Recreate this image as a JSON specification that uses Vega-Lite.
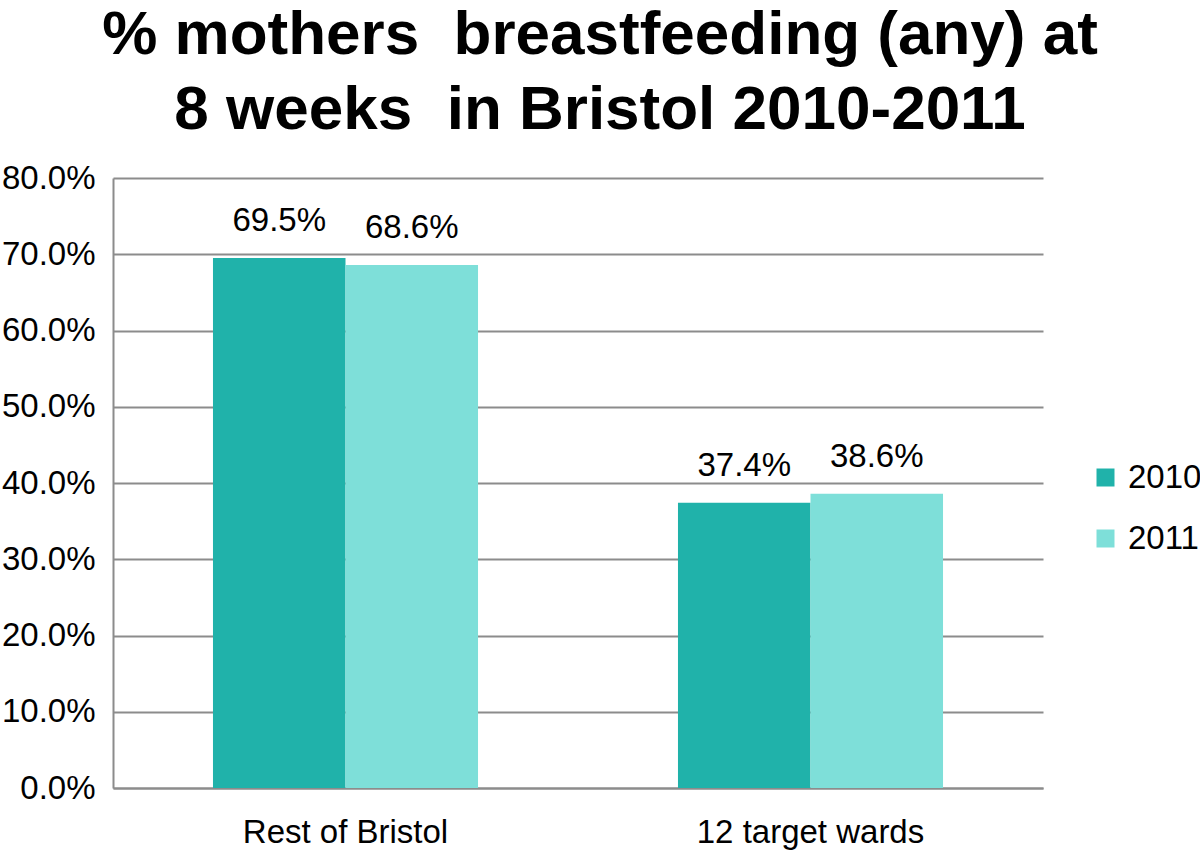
{
  "$schema": "https://vega.github.io/schema/vega-lite/v6.json",
  "autosize": "none",
  "width": 930,
  "height": 610,
  "padding": {"left": 113, "top": 178, "right": 157, "bottom": 62},
  "background": "white",
  "title": {
    "text": ["% mothers \u00a0breastfeeding (any) at", "8 weeks \u00a0in Bristol 2010-2011"],
    "font": "Liberation Sans",
    "fontSize": 62,
    "fontWeight": "bold",
    "lineHeight": 75,
    "color": "black",
    "anchor": "middle",
    "dx": 22,
    "offset": 20
  },
  "config": {
    "view": {"stroke": null},
    "font": "Liberation Sans"
  },
  "data": {
    "values": [
      {"group": "Rest of Bristol", "year": "2010", "value": 0.695},
      {"group": "Rest of Bristol", "year": "2011", "value": 0.686},
      {"group": "12 target wards", "year": "2010", "value": 0.374},
      {"group": "12 target wards", "year": "2011", "value": 0.386}
    ]
  },
  "encoding": {
    "x": {
      "field": "group",
      "type": "nominal",
      "sort": ["Rest of Bristol", "12 target wards"],
      "scale": {"paddingInner": 0.43, "paddingOuter": 0.215},
      "axis": {
        "title": null,
        "labelAngle": 0,
        "labelFont": "Liberation Sans",
        "labelFontSize": 33,
        "labelColor": "black",
        "labelBaseline": "alphabetic",
        "labelPadding": 54,
        "labelLimit": 0,
        "ticks": false,
        "tickSize": 0,
        "domainColor": "#8c8c8c",
        "domainWidth": 2,
        "grid": false
      }
    },
    "xOffset": {"field": "year", "type": "nominal"},
    "y": {
      "field": "value",
      "type": "quantitative",
      "scale": {"domain": [0, 0.8], "nice": false},
      "axis": {
        "title": null,
        "values": [0, 0.1, 0.2, 0.3, 0.4, 0.5, 0.6, 0.7, 0.8],
        "format": ".1%",
        "labelFont": "Liberation Sans",
        "labelFontSize": 33,
        "labelColor": "black",
        "labelPadding": 18,
        "ticks": false,
        "tickSize": 0,
        "domainColor": "#8c8c8c",
        "domainWidth": 2,
        "grid": true,
        "gridColor": "#8c8c8c",
        "gridWidth": 2
      }
    }
  },
  "layer": [
    {
      "mark": {"type": "bar"},
      "encoding": {
        "color": {
          "field": "year",
          "type": "nominal",
          "scale": {"domain": ["2010", "2011"], "range": ["#20B2AA", "#7EDFD9"]},
          "legend": {
            "title": null,
            "orient": "none",
            "legendX": 976,
            "legendY": 283,
            "symbolType": "square",
            "symbolSize": 324,
            "symbolStrokeWidth": 0,
            "symbolOpacity": 1,
            "labelFont": "Liberation Sans",
            "labelFontSize": 33,
            "labelColor": "black",
            "labelOffset": 6,
            "labelLimit": 0,
            "rowPadding": 27,
            "padding": 0
          }
        }
      }
    },
    {
      "mark": {"type": "text", "baseline": "alphabetic", "dy": -27, "fontSize": 33, "font": "Liberation Sans", "color": "black"},
      "encoding": {
        "text": {"field": "value", "type": "quantitative", "format": ".1%"}
      }
    }
  ]
}
